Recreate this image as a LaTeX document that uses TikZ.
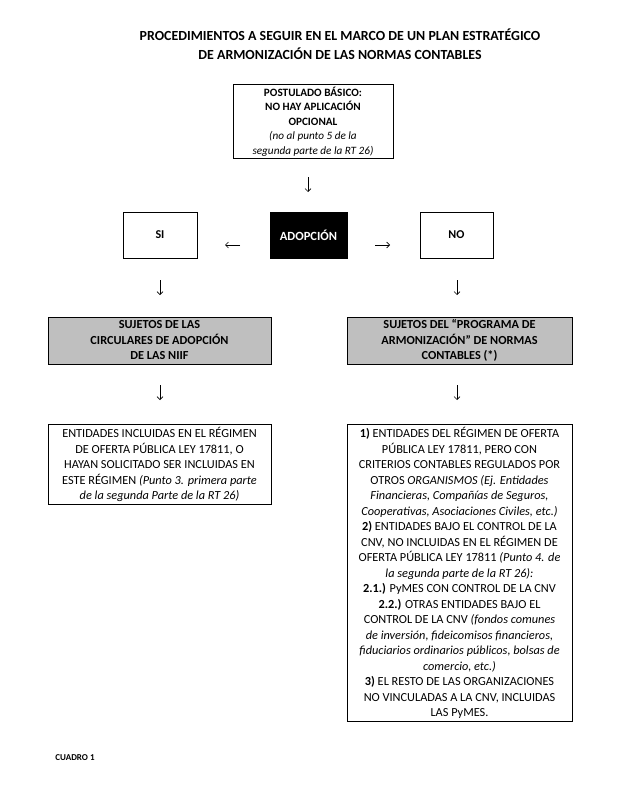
\documentclass[tikz,border=0pt]{standalone}
\usepackage{fontspec}
\setmainfont{Carlito}
\usetikzlibrary{arrows.meta}
\definecolor{boxgray}{RGB}{191,191,191}
\tikzset{
  box/.style={draw, line width=0.8pt, align=center, inner sep=2pt},
  greybox/.style={box, fill=boxgray},
  bodytext/.style={font=\fontsize{12.3}{15.5}\selectfont},
  arr/.style={line width=0.6pt, -{Straight Barb[length=3pt,width=6pt]}},
}
\begin{document}
\begin{tikzpicture}[x=1pt, y=-1pt]
    \useasboundingbox (0,0) rectangle (641,792);

    % Title
    \node[align=center, font=\bfseries\fontsize{13.9}{19}\selectfont] (title) at (340,44)
        {PROCEDIMIENTOS A SEGUIR EN EL MARCO DE UN PLAN ESTRATÉGICO\\
         DE ARMONIZACIÓN DE LAS NORMAS CONTABLES};

    % Basic postulate
    \node[box, minimum width=160, minimum height=73, font=\fontsize{11.2}{14.5}\selectfont] (post) at (313,121.5)
        {\textbf{POSTULADO BÁSICO:}\\
         \textbf{NO HAY APLICACIÓN}\\
         \textbf{OPCIONAL}\\
         \textit{(no al punto 5 de la}\\
         \textit{segunda parte de la RT 26)}};

    % Adoption choice
    \node[box, fill=black, text=white, minimum width=77, minimum height=46, font=\bfseries\fontsize{12.5}{14}\selectfont] (adop) at (308.5,235) {ADOPCIÓN};
    \node[box, minimum width=74, minimum height=46, font=\bfseries\fontsize{12}{14}\selectfont] (si) at (160,235) {SI};
    \node[box, minimum width=73, minimum height=46, font=\bfseries\fontsize{12}{14}\selectfont] (no) at (456.5,235) {NO};

    % Subjects
    \node[greybox, minimum width=223, minimum height=47, font=\bfseries\fontsize{12.3}{15.5}\selectfont] (sujsi) at (159.5,340.5)
        {SUJETOS DE LAS\\
         CIRCULARES DE ADOPCIÓN\\
         DE LAS NIIF};
    \node[greybox, minimum width=225, minimum height=47, font=\bfseries\fontsize{12.3}{15.5}\selectfont] (sujno) at (459.5,340.5)
        {SUJETOS DEL “PROGRAMA DE\\
         ARMONIZACIÓN” DE NORMAS\\
         CONTABLES (*)};

    % Entities
    \node[box, bodytext, anchor=north, minimum width=223, inner ysep=3pt] (entsi) at (159.5,424)
        {ENTIDADES INCLUIDAS EN EL RÉGIMEN\\
         DE OFERTA PÚBLICA LEY 17811, O\\
         HAYAN SOLICITADO SER INCLUIDAS EN\\
         ESTE RÉGIMEN \textit{(Punto 3. primera parte}\\
         \textit{de la segunda Parte de la RT 26)}};
    \node[box, bodytext, anchor=north, minimum width=225, inner ysep=3pt] (entno) at (459.5,424)
        {\textbf{1)} ENTIDADES DEL RÉGIMEN DE OFERTA\\
         PÚBLICA LEY 17811, PERO CON\\
         CRITERIOS CONTABLES REGULADOS POR\\
         OTROS \textit{ORGANISMOS (Ej. Entidades}\\
         \textit{Financieras, Compañías de Seguros,}\\
         \textit{Cooperativas, Asociaciones Civiles, etc.)}\\
         \textbf{2)} ENTIDADES BAJO EL CONTROL DE LA\\
         CNV, NO INCLUIDAS EN EL RÉGIMEN DE\\
         OFERTA PÚBLICA LEY 17811 \textit{(Punto 4. de}\\
         \textit{la segunda parte de la RT 26):}\\
         \textbf{2.1.)} PyMES CON CONTROL DE LA CNV\\
         \textbf{2.2.)} OTRAS ENTIDADES BAJO EL\\
         CONTROL DE LA CNV \textit{(fondos comunes}\\
         \textit{de inversión, fideicomisos financieros,}\\
         \textit{fiduciarios ordinarios públicos, bolsas de}\\
         \textit{comercio, etc.)}\\
         \textbf{3)} EL RESTO DE LAS ORGANIZACIONES\\
         NO VINCULADAS A LA CNV, INCLUIDAS\\
         LAS PyMES.};

    % Footer
    \node[font=\bfseries\fontsize{9}{10}\selectfont] (cuadro) at (75,758) {CUADRO 1};

    % Arrows
    \coordinate (postA) at (308,177);  \coordinate (postB) at (308,192);
    \coordinate (siA) at (240,245);    \coordinate (siB) at (225,245);
    \coordinate (noA) at (375,245);    \coordinate (noB) at (390,245);
    \coordinate (siC) at (160,280);    \coordinate (siD) at (160,295);
    \coordinate (noC) at (457,280);    \coordinate (noD) at (457,295);
    \coordinate (sujsiA) at (160,385); \coordinate (sujsiB) at (160,400);
    \coordinate (sujnoA) at (457,385); \coordinate (sujnoB) at (457,400);
    \draw[arr] (postA) -- (postB);
    \draw[arr] (siA) -- (siB);
    \draw[arr] (noA) -- (noB);
    \draw[arr] (siC) -- (siD);
    \draw[arr] (noC) -- (noD);
    \draw[arr] (sujsiA) -- (sujsiB);
    \draw[arr] (sujnoA) -- (sujnoB);
\end{tikzpicture}
\end{document}
